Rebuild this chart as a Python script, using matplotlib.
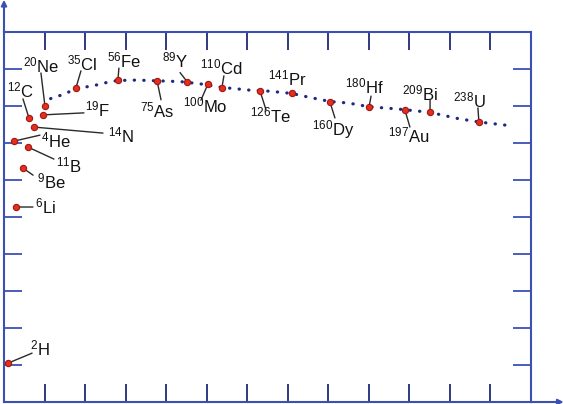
import numpy as np
import matplotlib.pyplot as plt

plt.rcParams['font.family'] = 'Liberation Sans'
plt.rcParams['mathtext.fontset'] = 'custom'
plt.rcParams['mathtext.rm'] = 'Liberation Sans'
plt.rcParams['mathtext.it'] = 'Liberation Sans:italic'

# nuclides: symbol, mass number, position (A, MeV per nucleon)
symbols = ['H', 'He', 'Li', 'Be', 'B', 'C', 'N', 'F', 'Ne', 'Cl', 'Fe', 'As',
           'Y', 'Mo', 'Cd', 'Te', 'Pr', 'Dy', 'Hf', 'Au', 'Bi', 'U']
mass = [2, 4, 6, 9, 11, 12, 14, 19, 20, 35, 56, 75,
        89, 100, 110, 126, 141, 160, 180, 197, 209, 238]
mass_x = [2.0, 4.9, 5.9, 9.4, 11.8, 12.3, 14.8, 19.2, 20.2, 35.5, 56.2, 75.5,
          90.3, 100.6, 107.5, 126.3, 142.1, 160.8, 180.1, 197.8, 210.2, 234.3]
binding = [1.05, 7.05, 5.27, 6.32, 6.89, 7.68, 7.43, 7.76, 8.00, 8.49, 8.70, 8.68,
           8.66, 8.59, 8.49, 8.41, 8.35, 8.11, 7.97, 7.89, 7.84, 7.57]

# dotted trend curve
curve_a = [23, 28, 36, 45, 51, 56, 66, 76, 87, 98, 108, 121, 131, 142,
           151, 161, 170, 180, 194, 210, 224, 234, 251]
curve_b = [8.20, 8.29, 8.47, 8.56, 8.64, 8.69, 8.70, 8.68, 8.66, 8.59, 8.50, 8.43, 8.40, 8.34,
           8.23, 8.12, 8.08, 7.98, 7.92, 7.83, 7.66, 7.57, 7.46]

# label placement, pixel offsets from each dot (text, leader line end)
text_off = [(22, 8), (27, -6), (19, -6), (14, -20), (28, -25), (-22, 20), (74, -15),
            (42, -2), (-22, 34), (-9, 17), (-11, 13), (-17, -37), (-25, 14), (-25, -28),
            (-22, 13), (-10, -32), (-24, 8), (-18, -33), (-24, 14), (-17, -32),
            (-28, 12), (-26, 15)]
line_off = [(24, 10), (26, 6), (17, 0), (10, -7), (26, -12), (-6, 19), (69, -6),
            (41, 2), (-4, 33), (5, 17), (1, 12), (4, -19), (-7, 9), (-7, -16),
            (2, 12), (6, -19), None, (5, -16), (2, 11), (5, -17), (0, 12), (-1, 14)]

AXIS = '#3c50b4'
TICK_DARK = '#1e2a78'

fig = plt.figure(figsize=(5.63, 4.04), dpi=100)
ax = fig.add_axes([4/563, 2/404, 527/563, 370/404])
ax.set_xlim(0, 260)
ax.set_ylim(0, 10)

for s in ax.spines.values():
    s.set_color(AXIS)
    s.set_linewidth(1.5)

ax.set_xticks(np.arange(20, 260, 20))
ax.set_yticks(np.arange(1, 10))
ax.tick_params(axis='both', direction='in', length=13, width=1.3,
               labelbottom=False, labelleft=False)
ax.tick_params(axis='x', top=True, colors=TICK_DARK)
ax.tick_params(axis='y', right=True, colors=AXIS)

# axis arrows
ax.annotate('', xy=(0, 1.087), xytext=(0, 1.0), xycoords='axes fraction',
            arrowprops=dict(arrowstyle='-|>', color=AXIS, lw=1.5, mutation_scale=8,
                            shrinkA=0, shrinkB=0), annotation_clip=False)
ax.annotate('', xy=(1.062, 0), xytext=(1.0, 0), xycoords='axes fraction',
            arrowprops=dict(arrowstyle='-|>', color=AXIS, lw=1.5, mutation_scale=8,
                            shrinkA=0, shrinkB=0), annotation_clip=False)

ax.plot(curve_a, curve_b, color='#1c2a80', lw=2.3,
        linestyle=(0, (0.1, 2.9)), dash_capstyle='round', zorder=2)

for i in range(len(symbols)):
    if line_off[i] is not None:
        ax.annotate('', xy=(mass_x[i], binding[i]), xytext=line_off[i],
                    textcoords='offset pixels',
                    arrowprops=dict(arrowstyle='-', color='#2a2a2a', lw=1.0,
                                    shrinkA=0, shrinkB=0), annotation_clip=False)
    ax.annotate(r'$^{%d}$%s' % (mass[i], symbols[i]), xy=(mass_x[i], binding[i]),
                xytext=text_off[i], textcoords='offset pixels',
                ha='left', va='baseline', fontsize=12, color='#111111',
                annotation_clip=False)

ax.plot(mass_x, binding, 'o', color='#e0301e', markeredgecolor='#a81410',
        markersize=4.5, markeredgewidth=0.8, clip_on=False, zorder=4)

fig.savefig('out.png', dpi=100)
